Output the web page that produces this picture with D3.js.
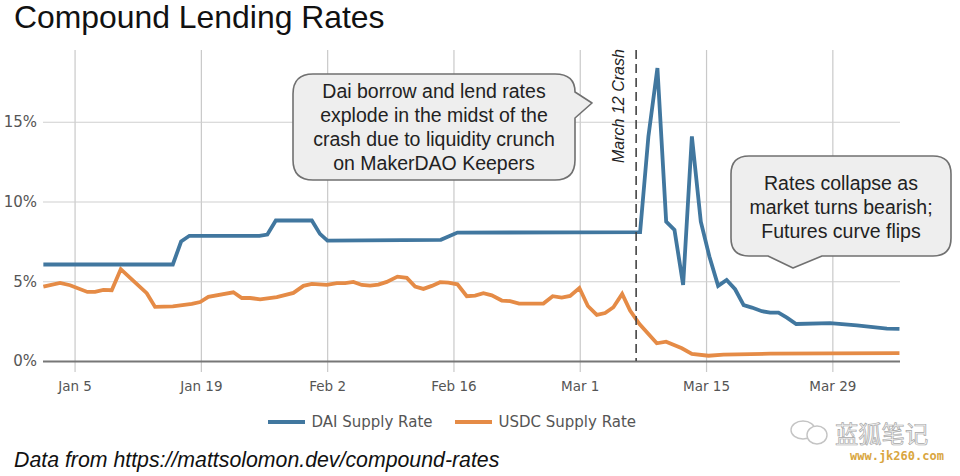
<!DOCTYPE html>
<html>
<head>
<meta charset="utf-8">
<script src="https://cdn.jsdelivr.net/npm/d3@7"></script>
<style>
  html, body { margin: 0; background: #fff; }
  svg { display: block; }
  .tick text { font-family: "DejaVu Sans"; fill: #555; }
</style>
</head>
<body>
<script>
// days are counted from Jan 1 2020 (0 = Jan 1)
const daiDays = [0.54, 14.89, 15.81, 16.73, 24.49, 25.37, 26.31, 30.3, 31.2, 32.03, 44.6, 46.44, 66.69, 67.61, 68.61, 69.58, 70.5, 71.46, 72.43, 73.42, 74.37, 75.34, 76.28, 77.22, 78.17, 79.08, 80.19, 81.1, 82.03, 82.96, 83.99, 87.76, 90.72, 94.05, 95.44];
const daiRates = [6.05, 6.05, 7.49, 7.85, 7.85, 7.93, 8.81, 8.81, 7.97, 7.55, 7.6, 8.05, 8.08, 14.08, 18.37, 8.74, 8.22, 4.77, 14.08, 8.74, 6.55, 4.71, 5.08, 4.5, 3.5, 3.35, 3.12, 3.03, 3.03, 2.72, 2.32, 2.38, 2.24, 2.03, 2.01];

const usdcDays = [0.54, 2.39, 3.5, 5.42, 6.27, 7.19, 8.12, 9.12, 10.52, 12.0, 12.92, 14.89, 17.0, 17.92, 18.83, 21.6, 22.54, 23.46, 24.57, 26.42, 28.26, 29.37, 30.3, 31.96, 33.07, 33.99, 34.91, 35.84, 36.76, 37.68, 38.61, 39.79, 40.83, 41.75, 42.67, 43.6, 44.52, 45.44, 46.44, 47.48, 48.4, 49.32, 50.25, 51.36, 52.28, 53.28, 55.97, 57.0, 58.0, 58.93, 59.96, 60.9, 61.89, 62.81, 63.73, 64.7, 65.58, 66.62, 68.54, 69.57, 71.32, 72.43, 74.27, 75.94, 81.1, 87.76, 95.44];
const usdcRates = [4.66, 4.9, 4.75, 4.33, 4.33, 4.46, 4.44, 5.76, 5.02, 4.25, 3.39, 3.43, 3.58, 3.7, 4.02, 4.31, 3.95, 3.95, 3.87, 4.0, 4.27, 4.71, 4.83, 4.77, 4.88, 4.88, 4.96, 4.77, 4.73, 4.79, 4.96, 5.29, 5.21, 4.66, 4.52, 4.71, 4.94, 4.92, 4.81, 4.06, 4.1, 4.25, 4.12, 3.79, 3.75, 3.6, 3.6, 4.06, 3.97, 4.08, 4.58, 3.45, 2.89, 3.01, 3.37, 4.21, 3.16, 2.32, 1.11, 1.21, 0.8, 0.44, 0.33, 0.4, 0.46, 0.48, 0.49];

const xTickDays = [4, 18, 32, 46, 60, 74, 88];
const yTicks = [0, 5, 10, 15];
const crashDay = 66.25;

const toDate = d => new Date(Date.UTC(2020, 0, 1) + d * 864e5);

const width = 960, height = 476;
const sans = '"Liberation Sans"';
const DAI = "#41779f", USDC = "#e58b46";

const svg = d3.select("body").append("svg")
  .attr("width", width)
  .attr("height", height)
  .attr("viewBox", [0, 0, width, height]);

const x = d3.scaleUtc().domain([toDate(0.5), toDate(95.5)]).range([43, 900]);
const y = d3.scaleLinear().domain([0, 19.5]).range([361, 50]);

// axes, with the grid drawn as long ticks
const xAxis = svg.append("g")
  .attr("transform", "translate(0,372)")
  .call(d3.axisBottom(x)
    .tickValues(xTickDays.map(toDate))
    .tickFormat(d3.utcFormat("%b %-d"))
    .tickSize(-322)
    .tickPadding(9));
xAxis.select(".domain").remove();
xAxis.selectAll("line").attr("stroke", "#c9c9c9").attr("stroke-width", 1.2);
xAxis.selectAll("text").attr("font-size", 13.5).attr("dy", "0.71em");

const yAxis = svg.append("g")
  .attr("transform", "translate(43,0)")
  .call(d3.axisLeft(y)
    .tickValues(yTicks)
    .tickFormat(d => d + "%")
    .tickSize(-857)
    .tickPadding(6));
yAxis.select(".domain").remove();
yAxis.selectAll("line")
  .attr("stroke", d => d === 0 ? "#777" : "#cfcfcf")
  .attr("stroke-width", d => d === 0 ? 2 : 1.2);
yAxis.selectAll("text").attr("font-size", 15);

// series
const line = d3.line().x(d => x(toDate(d[0]))).y(d => y(d[1]));
const series = [
  { color: USDC, days: usdcDays, rates: usdcRates },
  { color: DAI, days: daiDays, rates: daiRates }
];
svg.selectAll("path.series")
  .data(series)
  .join("path")
  .attr("class", "series")
  .attr("fill", "none")
  .attr("stroke", d => d.color)
  .attr("stroke-width", 3.8)
  .attr("stroke-linejoin", "miter")
  .attr("d", d => line(d3.zip(d.days, d.rates)));

// crash marker
svg.append("line")
  .attr("x1", x(toDate(crashDay))).attr("x2", x(toDate(crashDay)))
  .attr("y1", 50).attr("y2", 361)
  .attr("stroke", "#444")
  .attr("stroke-width", 1.6)
  .attr("stroke-dasharray", "9 5");

svg.append("text")
  .attr("transform", "translate(624,163) rotate(-90)")
  .attr("font-family", sans)
  .attr("font-style", "italic")
  .attr("font-size", 16)
  .attr("fill", "#222")
  .text("March 12 Crash");

// speech bubbles
function bubble(pathD, lines, cx, firstBase, lineGap, size) {
  svg.append("path")
    .attr("d", pathD)
    .attr("fill", "#eeeeee")
    .attr("stroke", "#707070")
    .attr("stroke-width", 1.6)
    .attr("stroke-linejoin", "round");
  svg.append("g")
    .selectAll("text")
    .data(lines)
    .join("text")
    .attr("x", cx)
    .attr("y", (d, i) => firstBase + i * lineGap)
    .attr("text-anchor", "middle")
    .attr("font-family", sans)
    .attr("font-size", size)
    .attr("fill", "#222")
    .text(d => d);
}

bubble(
  "M313,74 H555 Q575,74 575,92 L592,103 L575,118 V160 Q575,180 555,180 H313 Q293,180 293,160 V94 Q293,74 313,74 Z",
  ["Dai borrow and lend rates", "explode in the midst of the", "crash due to liquidity crunch", "on MakerDAO Keepers"],
  434, 98, 24, 19.5
);

bubble(
  "M749,156 H933 Q951,156 951,174 V238 Q951,256 933,256 H822 L793,268 L768,256 H749 Q731,256 731,238 V174 Q731,156 749,156 Z",
  ["Rates collapse as", "market turns bearish;", "Futures curve flips"],
  841, 189.5, 24, 19.5
);

// legend
const legend = svg.append("g");
const legendItems = [
  { name: "DAI Supply Rate", color: DAI, x0: 268 },
  { name: "USDC Supply Rate", color: USDC, x0: 455 }
];
legendItems.forEach(item => {
  legend.append("line")
    .attr("x1", item.x0).attr("x2", item.x0 + 37)
    .attr("y1", 422).attr("y2", 422)
    .attr("stroke", item.color)
    .attr("stroke-width", 4);
  legend.append("text")
    .attr("x", item.x0 + 43.5)
    .attr("y", 427)
    .attr("font-family", "DejaVu Sans")
    .attr("font-size", 15)
    .attr("fill", "#555")
    .text(item.name);
});

// title and source
svg.append("text")
  .attr("x", 14).attr("y", 28)
  .attr("font-family", sans)
  .attr("font-size", 31.9)
  .attr("fill", "#111")
  .text("Compound Lending Rates");

svg.append("text")
  .attr("x", 14).attr("y", 467)
  .attr("font-family", sans)
  .attr("font-style", "italic")
  .attr("font-size", 21.3)
  .attr("fill", "#111")
  .text("Data from https://mattsolomon.dev/compound-rates");

// watermark
const mark = svg.append("g");
mark.append("ellipse").attr("cx", 803).attr("cy", 430).attr("rx", 12).attr("ry", 9)
  .attr("fill", "#fff").attr("stroke", "#c4c4c4").attr("stroke-width", 1.4);
mark.append("ellipse").attr("cx", 817).attr("cy", 435).attr("rx", 10).attr("ry", 9)
  .attr("fill", "#fff").attr("stroke", "#c4c4c4").attr("stroke-width", 1.4);
mark.append("text")
  .attr("x", 835).attr("y", 443)
  .attr("font-family", "Noto Sans CJK SC")
  .attr("font-size", 23.3)
  .attr("fill", "#f4f4f4")
  .attr("stroke", "#a8a8a8")
  .attr("stroke-width", 0.7)
  .text("蓝狐笔记");
mark.append("text")
  .attr("x", 850).attr("y", 460)
  .attr("font-family", "DejaVu Sans Mono")
  .attr("font-weight", "bold")
  .attr("font-size", 12)
  .attr("fill", "#d9a63f")
  .text("www.jk260.com");
</script>
</body>
</html>
